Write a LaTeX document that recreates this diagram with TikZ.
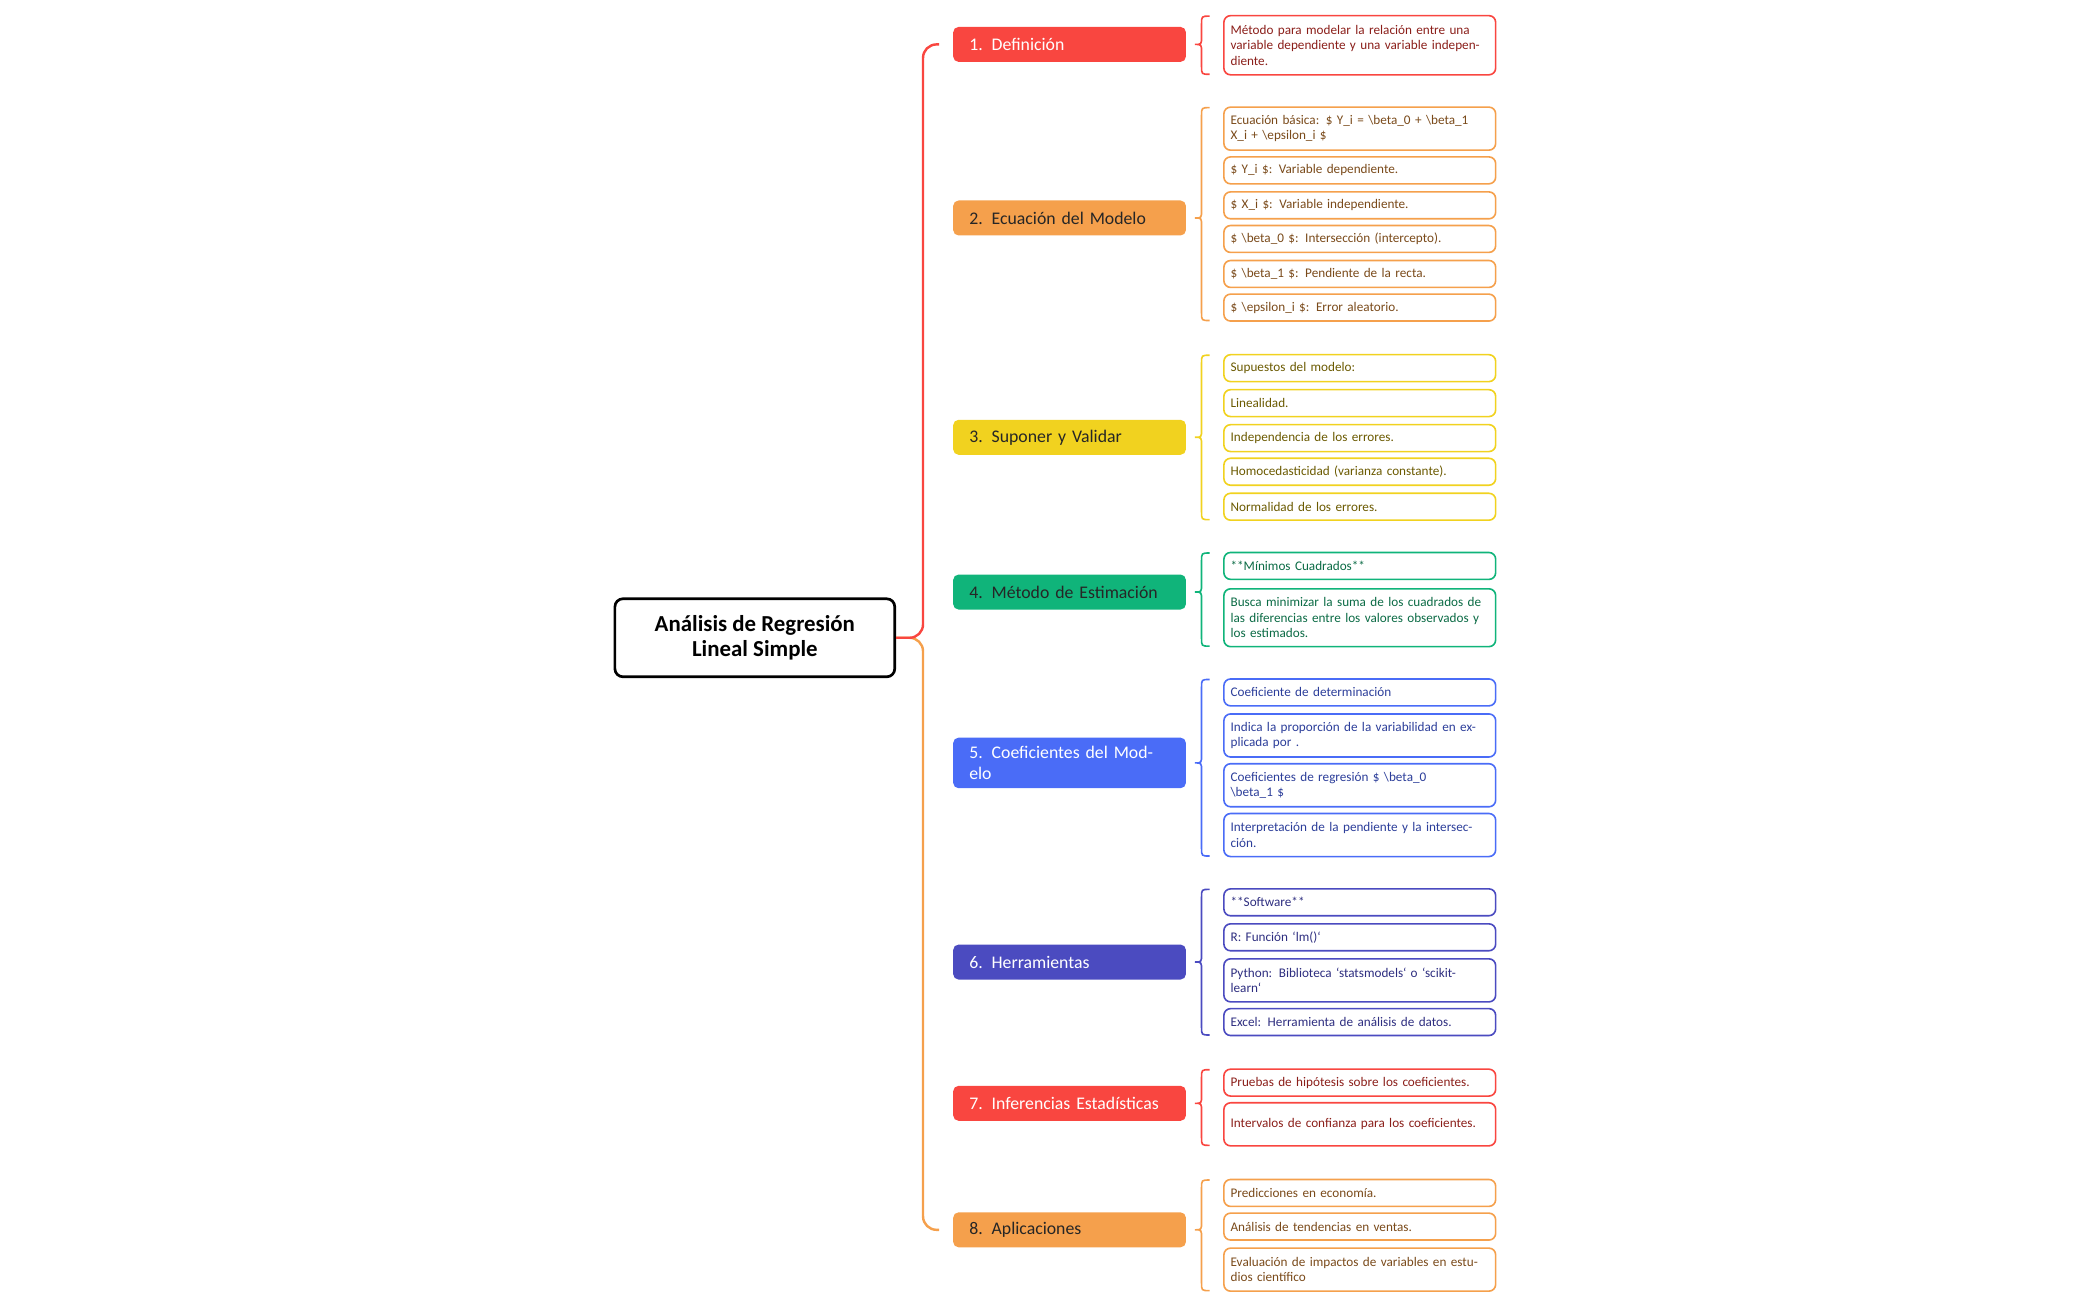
\documentclass[tikz,border=0pt]{standalone}
\usepackage{fontspec}
\setmainfont{Carlito}
\usetikzlibrary{calc,positioning}
\definecolor{cRed}{HTML}{F94640}
\definecolor{cOrange}{HTML}{F5A04C}
\definecolor{cYellow}{HTML}{F1D21F}
\definecolor{cGreen}{HTML}{10B47A}
\definecolor{cBlue}{HTML}{4A6CF7}
\definecolor{cIndigo}{HTML}{4B4BC0}
\definecolor{tRed}{HTML}{8B1F1A}
\definecolor{tOrange}{HTML}{7A4A1A}
\definecolor{tYellow}{HTML}{6B5A00}
\definecolor{tGreen}{HTML}{0B6B45}
\definecolor{tBlue}{HTML}{2C3E9A}
\definecolor{tIndigo}{HTML}{2E2E80}
\tikzset{
  rootbox/.style={draw=black,line width=1pt,rounded corners=3pt,minimum width=104pt,
    minimum height=29pt,align=center,font=\fontsize{8.5}{9.5}\selectfont\bfseries},
  catbox/.style={fill=#1,rounded corners=2pt,anchor=west,minimum height=13pt,
    text width=74.5pt,inner xsep=6pt,align=left,font=\fontsize{6.6}{7.5}\selectfont},
  leaf/.style={draw=#1,line width=0.6pt,rounded corners=2.5pt,fill=white,anchor=north west,
    text width=96pt,inner xsep=2.5pt,inner ysep=1pt,align=left,font=\fontsize{4.9}{5.8}\selectfont},
}
% brace from first leaf to last leaf, tip at the category
\newcommand{\grpbrace}[4]{%
  \path let \p1=(#1.north west), \p2=(#2.south west), \p3=(#3.east) in
    [draw=#4,line width=0.6pt]
    (\x1-5pt,\y1-0.5pt) .. controls (\x1-8pt,\y1-0.5pt) .. (\x1-8pt,\y1-3.5pt)
    -- (\x1-8pt,\y3+3pt) .. controls (\x1-8pt,\y3) .. (\x1-10.5pt,\y3)
    .. controls (\x1-8pt,\y3) .. (\x1-8pt,\y3-3pt)
    -- (\x1-8pt,\y2+3.5pt) .. controls (\x1-8pt,\y2+0.5pt) .. (\x1-5pt,\y2+0.5pt);}
\begin{document}
\begin{tikzpicture}[x=0.5pt,y=-0.5pt]
  \useasboundingbox (0,0) rectangle (1560,966);

  \node[rootbox] (root) at (561,474) {Análisis de Regresión\\Lineal Simple};

  % categories
  \node[catbox=cRed,text=white] (c1) at (708,33) {1. Definición};
  \node[catbox=cOrange,text=black!85] (c2) at (708,162) {2. Ecuación del Modelo};
  \node[catbox=cYellow,text=black!85] (c3) at (708,325) {3. Suponer y Validar};
  \node[catbox=cGreen,text=black!85] (c4) at (708,440) {4. Método de Estimación};
  \node[catbox=cBlue,text=white] (c5) at (708,567) {5. Coeficientes del Modelo};
  \node[catbox=cIndigo,text=white] (c6) at (708,715) {6. Herramientas};
  \node[catbox=cRed,text=white] (c7) at (708,820) {7. Inferencias Estadísticas};
  \node[catbox=cOrange,text=black!85] (c8) at (708,914) {8. Aplicaciones};

  % trunk
  \draw[cOrange,line width=0.9pt,rounded corners=5pt] (root.east) -| ($(c8.west)+(-22,0)$) -- ($(c8.west)+(-10,0)$);
  \draw[cRed,line width=0.9pt,rounded corners=5pt] (root.east) -| ($(c1.west)+(-22,0)$) -- ($(c1.west)+(-10,0)$);

  % leaves
  \node[leaf=cRed,text=tRed,minimum height=22pt] (l11) at (909,11) {Método para modelar la relación entre una variable dependiente y una variable independiente.};

  \node[leaf=cOrange,text=tOrange,minimum height=16pt] (l21) at (909,79) {Ecuación básica: \$ Y\_i = \textbackslash beta\_0 + \textbackslash beta\_1 X\_i + \textbackslash epsilon\_i \$};
  \node[leaf=cOrange,text=tOrange,minimum height=10pt] (l22) at (909,116) {\$ Y\_i \$: Variable dependiente.};
  \node[leaf=cOrange,text=tOrange,minimum height=10pt] (l23) at (909,142) {\$ X\_i \$: Variable independiente.};
  \node[leaf=cOrange,text=tOrange,minimum height=10pt] (l24) at (909,167) {\$ \textbackslash beta\_0 \$: Intersección (intercepto).};
  \node[leaf=cOrange,text=tOrange,minimum height=10pt] (l25) at (909,193) {\$ \textbackslash beta\_1 \$: Pendiente de la recta.};
  \node[leaf=cOrange,text=tOrange,minimum height=10pt] (l26) at (909,218) {\$ \textbackslash epsilon\_i \$: Error aleatorio.};

  \node[leaf=cYellow,text=tYellow,minimum height=10pt] (l31) at (909,263) {Supuestos del modelo:};
  \node[leaf=cYellow,text=tYellow,minimum height=10pt] (l32) at (909,289) {Linealidad.};
  \node[leaf=cYellow,text=tYellow,minimum height=10pt] (l33) at (909,315) {Independencia de los errores.};
  \node[leaf=cYellow,text=tYellow,minimum height=10pt] (l34) at (909,340) {Homocedasticidad (varianza constante).};
  \node[leaf=cYellow,text=tYellow,minimum height=10pt] (l35) at (909,366) {Normalidad de los errores.};

  \node[leaf=cGreen,text=tGreen,minimum height=10pt] (l41) at (909,410) {**Mínimos Cuadrados**};
  \node[leaf=cGreen,text=tGreen,minimum height=21.5pt] (l42) at (909,437) {Busca minimizar la suma de los cuadrados de las diferencias entre los valores observados y los estimados.};

  \node[leaf=cBlue,text=tBlue,minimum height=10pt] (l51) at (909,504) {Coeficiente de determinación};
  \node[leaf=cBlue,text=tBlue,minimum height=16pt] (l52) at (909,530) {Indica la proporción de la variabilidad en explicada por .};
  \node[leaf=cBlue,text=tBlue,minimum height=16pt] (l53) at (909,567) {Coeficientes de regresión \$ \textbackslash beta\_0\\\textbackslash beta\_1 \$};
  \node[leaf=cBlue,text=tBlue,minimum height=16pt] (l54) at (909,604) {Interpretación de la pendiente y la intersección.};

  \node[leaf=cIndigo,text=tIndigo,minimum height=10pt] (l61) at (909,660) {**Software**};
  \node[leaf=cIndigo,text=tIndigo,minimum height=10pt] (l62) at (909,686) {R: Función `lm()`};
  \node[leaf=cIndigo,text=tIndigo,minimum height=16pt] (l63) at (909,712) {Python: Biblioteca `statsmodels` o `scikit-\\learn`};
  \node[leaf=cIndigo,text=tIndigo,minimum height=10pt] (l64) at (909,749) {Excel: Herramienta de análisis de datos.};

  \node[leaf=cRed,text=tRed,minimum height=10pt] (l71) at (909,794) {Pruebas de hipótesis sobre los coeficientes.};
  \node[leaf=cRed,text=tRed,minimum height=16pt] (l72) at (909,819) {Intervalos de confianza para los coeficientes.};

  \node[leaf=cOrange,text=tOrange,minimum height=10pt] (l81) at (909,876) {Predicciones en economía.};
  \node[leaf=cOrange,text=tOrange,minimum height=10pt] (l82) at (909,901) {Análisis de tendencias en ventas.};
  \node[leaf=cOrange,text=tOrange,minimum height=16pt] (l83) at (909,927) {Evaluación de impactos de variables en estudios científico};

  % braces
  \grpbrace{l11}{l11}{c1}{cRed}
  \grpbrace{l21}{l26}{c2}{cOrange}
  \grpbrace{l31}{l35}{c3}{cYellow}
  \grpbrace{l41}{l42}{c4}{cGreen}
  \grpbrace{l51}{l54}{c5}{cBlue}
  \grpbrace{l61}{l64}{c6}{cIndigo}
  \grpbrace{l71}{l72}{c7}{cRed}
  \grpbrace{l81}{l83}{c8}{cOrange}
\end{tikzpicture}
\end{document}
